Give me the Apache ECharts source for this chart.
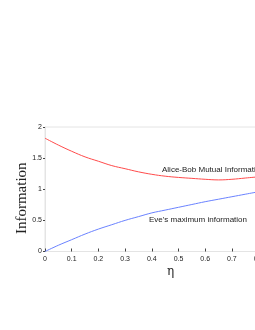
<!DOCTYPE html>
<html><head><meta charset="utf-8">
<script src="https://cdn.jsdelivr.net/npm/echarts@6/dist/echarts.min.js"></script>
<style>html,body{margin:0;padding:0;overflow:hidden;background:#fff}#c{width:340px;height:330px}</style>
</head><body><div id="c"></div>
<script>
const eta = [0,0.05,0.1,0.15,0.2,0.25,0.3,0.35,0.4,0.45,0.5,0.55,0.6,0.65,0.7,0.75,0.8];
const mutualInfo = [1.82,1.71,1.61,1.52,1.45,1.38,1.33,1.28,1.24,1.21,1.19,1.175,1.16,1.15,1.16,1.18,1.20];
const eveInfo = [0,0.10,0.19,0.28,0.36,0.43,0.50,0.56,0.62,0.665,0.71,0.755,0.80,0.84,0.88,0.92,0.96];
const xTicks = [0,0.1,0.2,0.3,0.4,0.5,0.6,0.7,0.8,0.9,1];
const yTicks = [0,0.5,1,1.5,2];
const labelMutual = 'Alice-Bob Mutual Information';
const labelEve = "Eve's maximum information";

const chart = echarts.init(document.getElementById('c'), null, {renderer:'canvas'});
const axisFont = {fontSize:7, color:'#222', fontFamily:'Liberation Sans'};
chart.setOption({
  animation:false,
  grid:{left:45, top:127, width:267, height:124.5, show:true, borderColor:'#e4e4e4', borderWidth:1},
  xAxis:{type:'value', min:0, max:1, interval:0.1,
    name:'η', nameLocation:'middle', nameGap:14,
    nameTextStyle:{fontSize:12, color:'#222', fontFamily:'DejaVu Serif', padding:[0,16,0,0]},
    axisLine:{lineStyle:{color:'#e4e4e4'}},
    axisTick:{inside:true, length:3, lineStyle:{color:'#444'}},
    axisLabel:Object.assign({margin:4, formatter:v=>String(Math.round(v*10)/10)}, axisFont),
    splitLine:{show:false}},
  yAxis:{type:'value', min:0, max:2, interval:0.5,
    name:'Information', nameLocation:'middle', nameGap:15, nameMoveOverlap:false,
    nameTextStyle:{fontSize:15, color:'#222', fontFamily:'Liberation Serif', padding:[0,18,0,0]},
    axisLine:{show:true, lineStyle:{color:'#e4e4e4'}},
    axisTick:{show:true, inside:false, length:2, lineStyle:{color:'#444'}},
    axisLabel:Object.assign({margin:3}, axisFont),
    splitLine:{show:false}},
  series:[
    {type:'line', data:eta.map((x,i)=>[x,mutualInfo[i]]), smooth:0.4, showSymbol:false,
     lineStyle:{color:'#ff4a4a', width:1}, silent:true},
    {type:'line', data:eta.map((x,i)=>[x,eveInfo[i]]), smooth:0.4, showSymbol:false,
     lineStyle:{color:'#6a82ff', width:1}, silent:true}
  ],
  graphic:[
    {type:'text', left:162, top:166, style:{text:labelMutual, fontSize:8, fill:'#222', fontFamily:'Liberation Sans'}},
    {type:'text', left:149, top:216, style:{text:labelEve, fontSize:8, fill:'#222', fontFamily:'Liberation Sans'}}
  ]
});
</script></body></html>
